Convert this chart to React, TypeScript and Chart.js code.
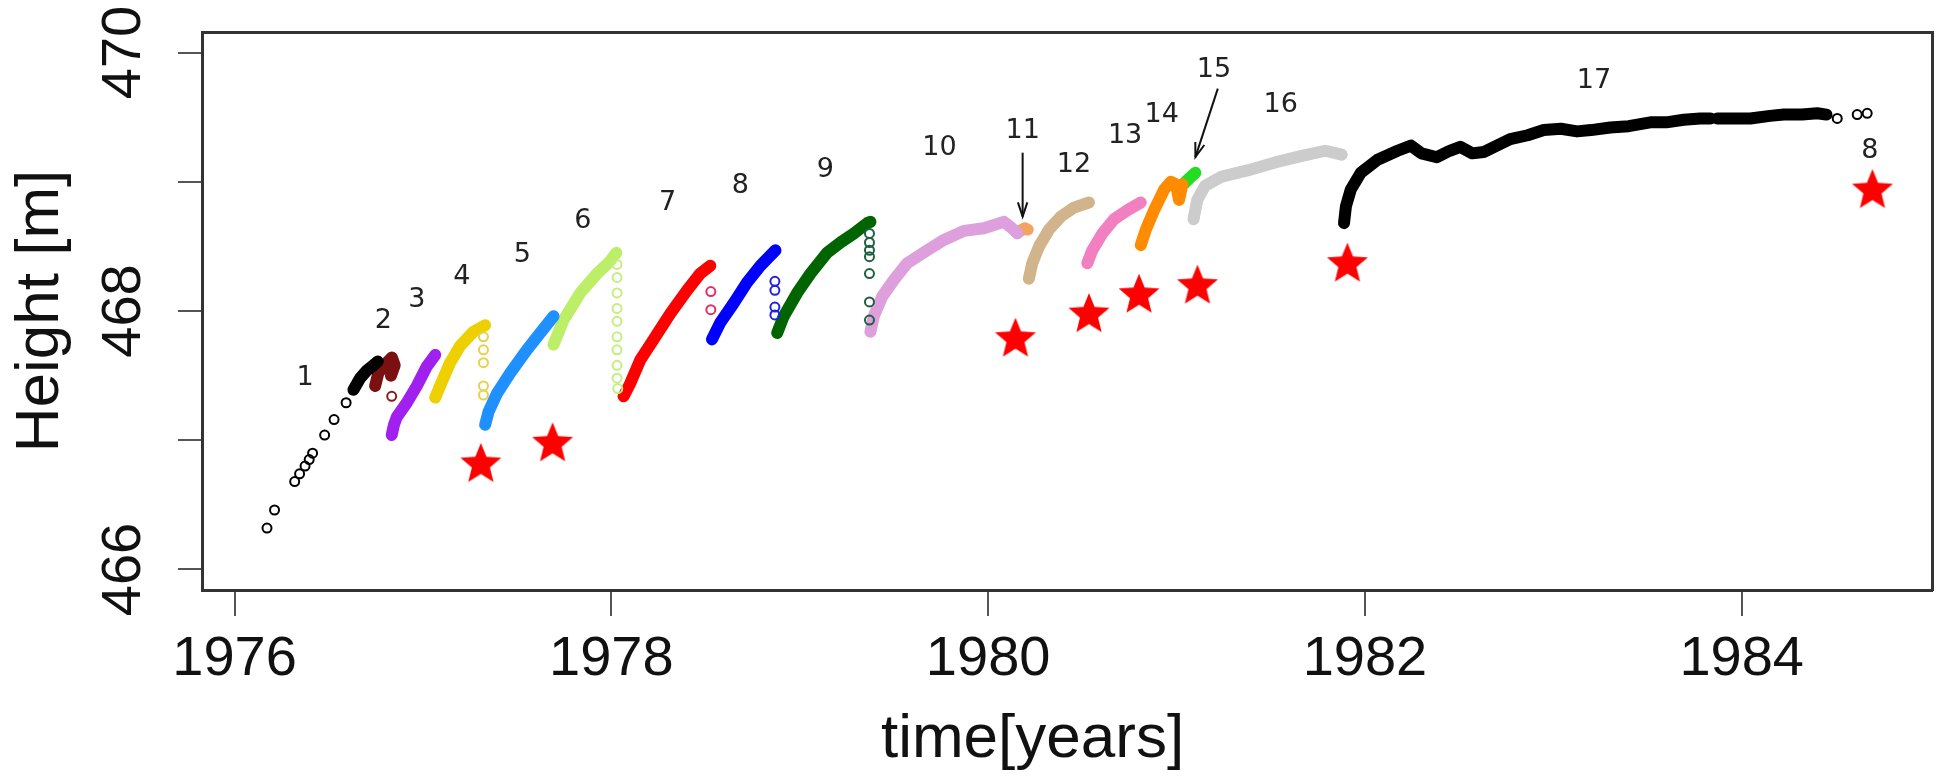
import React, { useEffect, useRef } from "react";
import { Chart, registerables } from "chart.js";

Chart.register(...registerables);

// ---------- axes ----------
const xMin = 1975.827;
const xMax = 1985.01;
const yMin = 465.841;
const yMax = 470.159;
const xTicks = [1976, 1978, 1980, 1982, 1984];
const yTicks = [466, 467, 468, 469, 470];
const yLabeled = [466, 468, 470];

// ---------- series (years, heights) ----------
const s1OpenX = [1976.172, 1976.212, 1976.319, 1976.345, 1976.374, 1976.396, 1976.414, 1976.478, 1976.528, 1976.592];
const s1OpenY = [466.32, 466.46, 466.68, 466.74, 466.80, 466.85, 466.90, 467.04, 467.16, 467.29];
const s1X = [1976.631, 1976.666, 1976.702, 1976.737, 1976.760];
const s1Y = [467.39, 467.48, 467.54, 467.58, 467.61];

const s2X = [1976.746, 1976.763, 1976.790, 1976.808, 1976.835, 1976.850, 1976.830];
const s2Y = [467.42, 467.52, 467.57, 467.60, 467.64, 467.58, 467.50];
const s2OpenX = [1976.834];
const s2OpenY = [467.34];

const s3X = [1976.834, 1976.846, 1976.861, 1976.914, 1976.967, 1977.020, 1977.065];
const s3Y = [467.04, 467.12, 467.18, 467.29, 467.42, 467.57, 467.66];

const s4X = [1977.065, 1977.091, 1977.144, 1977.197, 1977.268, 1977.330];
const s4Y = [467.33, 467.42, 467.60, 467.73, 467.84, 467.89];
const s4OpenX = [1977.321, 1977.321, 1977.321, 1977.321, 1977.321];
const s4OpenY = [467.80, 467.70, 467.60, 467.42, 467.35];

const s5X = [1977.330, 1977.348, 1977.392, 1977.463, 1977.552, 1977.622, 1977.693];
const s5Y = [467.12, 467.22, 467.36, 467.52, 467.70, 467.83, 467.96];

const s6X = [1977.693, 1977.746, 1977.835, 1977.924, 1977.990, 1978.026];
const s6Y = [467.74, 467.93, 468.14, 468.29, 468.38, 468.45];
const s6OpenX = [1978.030, 1978.030, 1978.030, 1978.030, 1978.030, 1978.030, 1978.030, 1978.030, 1978.030, 1978.034];
const s6OpenY = [468.36, 468.26, 468.14, 468.02, 467.92, 467.80, 467.70, 467.58, 467.48, 467.40];

const s7X = [1978.065, 1978.100, 1978.153, 1978.224, 1978.313, 1978.402, 1978.472, 1978.525];
const s7Y = [467.34, 467.44, 467.62, 467.78, 467.98, 468.16, 468.29, 468.35];
const s7OpenX = [1978.528, 1978.528];
const s7OpenY = [468.15, 468.01];

const s8X = [1978.534, 1978.578, 1978.649, 1978.720, 1978.791, 1978.871];
const s8Y = [467.78, 467.91, 468.06, 468.22, 468.35, 468.47];
const s8OpenX = [1978.868, 1978.868, 1978.868, 1978.868];
const s8OpenY = [468.23, 468.16, 468.03, 467.97];

const s9X = [1978.880, 1978.915, 1978.986, 1979.057, 1979.145, 1979.216, 1979.287, 1979.358, 1979.375];
const s9Y = [467.83, 467.96, 468.14, 468.29, 468.45, 468.53, 468.60, 468.68, 468.69];
const s9OpenX = [1979.370, 1979.370, 1979.370, 1979.370, 1979.370, 1979.370, 1979.370];
const s9OpenY = [468.60, 468.53, 468.47, 468.42, 468.29, 468.07, 467.93];

const s10X = [1979.375, 1979.393, 1979.437, 1979.499, 1979.570, 1979.677, 1979.765, 1979.871, 1979.977, 1980.083, 1980.119, 1980.155];
const s10Y = [467.84, 467.96, 468.11, 468.24, 468.37, 468.47, 468.55, 468.62, 468.64, 468.69, 468.65, 468.60];

const s11X = [1980.170, 1980.195, 1980.210];
const s11Y = [468.62, 468.64, 468.63];

const s12X = [1980.216, 1980.234, 1980.270, 1980.323, 1980.385, 1980.455, 1980.535];
const s12Y = [468.25, 468.37, 468.50, 468.63, 468.73, 468.80, 468.84];

const s13X = [1980.526, 1980.553, 1980.606, 1980.668, 1980.739, 1980.810];
const s13Y = [468.37, 468.47, 468.60, 468.71, 468.78, 468.84];

const s14X = [1980.810, 1980.837, 1980.881, 1980.934, 1980.970, 1980.997, 1981.013, 1981.031];
const s14Y = [468.51, 468.63, 468.78, 468.94, 469.00, 468.98, 468.86, 468.98];

const s15X = [1981.035, 1981.070, 1981.100];
const s15Y = [468.98, 469.03, 469.07];

const s16X = [1981.090, 1981.110, 1981.152, 1981.240, 1981.381, 1981.523, 1981.665, 1981.789, 1981.877];
const s16Y = [468.71, 468.86, 468.97, 469.04, 469.09, 469.15, 469.20, 469.24, 469.21];

const s17aX = [1981.889, 1981.899, 1981.925, 1981.978, 1982.067, 1982.173, 1982.244, 1982.300, 1982.382, 1982.450, 1982.506, 1982.570, 1982.630, 1982.700, 1982.771, 1982.864, 1982.949, 1983.040, 1983.126, 1983.200, 1983.302, 1983.400, 1983.515, 1983.600, 1983.692, 1983.780, 1983.835];
const s17aY = [468.68, 468.81, 468.94, 469.07, 469.17, 469.24, 469.28, 469.22, 469.19, 469.24, 469.27, 469.22, 469.23, 469.28, 469.33, 469.36, 469.40, 469.41, 469.39, 469.40, 469.42, 469.43, 469.46, 469.46, 469.48, 469.49, 469.49];
const s17bX = [1983.870, 1984.046, 1984.150, 1984.224, 1984.320, 1984.401, 1984.450];
const s17bY = [469.49, 469.49, 469.51, 469.52, 469.52, 469.53, 469.52];
const s17OpenX = [1984.507, 1984.613, 1984.666];
const s17OpenY = [469.49, 469.52, 469.53];

const starX = [1977.307, 1977.688, 1980.145, 1980.535, 1980.801, 1981.111, 1981.907, 1984.694];
const starY = [466.82, 466.98, 467.79, 467.98, 468.13, 468.20, 468.37, 468.94];

// ---------- annotations ----------
const labelText = ["1", "2", "3", "4", "5", "6", "7", "8", "9", "10", "11", "12", "13", "14", "15", "16", "17", "8"];
const labelX = [1976.374, 1976.790, 1976.967, 1977.206, 1977.527, 1977.849, 1978.298, 1978.685, 1979.136, 1979.742, 1980.183, 1980.455, 1980.727, 1980.921, 1981.199, 1981.553, 1983.216, 1984.680];
const labelY = [467.483, 467.919, 468.087, 468.267, 468.435, 468.699, 468.836, 468.964, 469.094, 469.262, 469.396, 469.132, 469.352, 469.520, 469.863, 469.597, 469.783, 469.235];

const arrowFromX = [1980.183, 1981.219];
const arrowFromY = [469.225, 469.721];
const arrowToX = [1980.183, 1981.100];
const arrowToY = [468.730, 469.191];

const FONT = '"Liberation Sans", Arial, Helvetica, sans-serif';

const zip = (xs: number[], ys: number[]) => xs.map((x, i) => ({ x, y: ys[i] }));

const lineSet = (xs: number[], ys: number[], color: string, width = 12) => ({
  data: zip(xs, ys),
  showLine: true,
  borderColor: color,
  backgroundColor: color,
  borderWidth: width,
  borderCapStyle: "round" as const,
  borderJoinStyle: "round" as const,
  pointRadius: 0,
  pointHoverRadius: 0,
  tension: 0,
  fill: false,
  order: 3,
});

const openSet = (xs: number[], ys: number[], color: string) => ({
  data: zip(xs, ys),
  showLine: false,
  borderColor: color,
  backgroundColor: "rgba(0,0,0,0)",
  borderWidth: 2,
  pointStyle: "circle" as const,
  pointRadius: 4.5,
  pointHoverRadius: 4.5,
  order: 2,
});

function makeStar(): HTMLCanvasElement {
  const c = document.createElement("canvas");
  c.width = 48;
  c.height = 48;
  const g = c.getContext("2d")!;
  const R = 21.5;
  const r = 9.5;
  g.beginPath();
  for (let i = 0; i < 10; i++) {
    const rad = i % 2 === 0 ? R : r;
    const a = -Math.PI / 2 + (i * Math.PI) / 5;
    const px = 24 + rad * Math.cos(a);
    const py = 25 + rad * Math.sin(a);
    if (i === 0) g.moveTo(px, py);
    else g.lineTo(px, py);
  }
  g.closePath();
  g.fillStyle = "#FF0000";
  g.fill();
  return c;
}

const annotationPlugin = {
  id: "annotations",
  afterDatasetsDraw(chart: any) {
    const { ctx } = chart;
    const xs = chart.scales.x;
    const ys = chart.scales.y;
    ctx.save();
    ctx.font = '27px "DejaVu Sans", sans-serif';
    ctx.fillStyle = "#222";
    ctx.textAlign = "center";
    ctx.textBaseline = "middle";
    labelText.forEach((t, i) => {
      ctx.fillText(t, xs.getPixelForValue(labelX[i]), ys.getPixelForValue(labelY[i]));
    });
    ctx.strokeStyle = "#111";
    ctx.lineWidth = 2;
    arrowFromX.forEach((_, i) => {
      const x0 = xs.getPixelForValue(arrowFromX[i]);
      const y0 = ys.getPixelForValue(arrowFromY[i]);
      const x1 = xs.getPixelForValue(arrowToX[i]);
      const y1 = ys.getPixelForValue(arrowToY[i]);
      ctx.beginPath();
      ctx.moveTo(x0, y0);
      ctx.lineTo(x1, y1);
      ctx.stroke();
      const ang = Math.atan2(y1 - y0, x1 - x0);
      const len = 15;
      const spread = 0.32;
      ctx.beginPath();
      ctx.moveTo(x1 - len * Math.cos(ang - spread), y1 - len * Math.sin(ang - spread));
      ctx.lineTo(x1, y1);
      ctx.lineTo(x1 - len * Math.cos(ang + spread), y1 - len * Math.sin(ang + spread));
      ctx.stroke();
    });
    ctx.restore();
  },
};

export default function App() {
  const ref = useRef<HTMLCanvasElement | null>(null);

  useEffect(() => {
    const canvas = ref.current;
    if (!canvas) return;
    const star = makeStar();
    Chart.defaults.font.family = FONT;

    const datasets: any[] = [
      {
        data: zip(starX, starY),
        showLine: false,
        pointStyle: star,
        pointRadius: 21,
        pointHoverRadius: 21,
        order: 0,
      },
      openSet(s1OpenX, s1OpenY, "#000000"),
      openSet(s2OpenX, s2OpenY, "#8B1A1A"),
      openSet(s4OpenX, s4OpenY, "#E6D24A"),
      openSet(s6OpenX, s6OpenY, "#C4EE80"),
      openSet(s7OpenX, s7OpenY, "#E0306A"),
      openSet(s8OpenX, s8OpenY, "#2020E0"),
      openSet(s9OpenX, s9OpenY, "#1E6040"),
      openSet(s17OpenX, s17OpenY, "#000000"),
      lineSet(s1X, s1Y, "#000000"),
      lineSet(s2X, s2Y, "#7A1010"),
      lineSet(s3X, s3Y, "#A020F0"),
      lineSet(s4X, s4Y, "#EED000"),
      lineSet(s5X, s5Y, "#1E90FF"),
      lineSet(s6X, s6Y, "#BCEE68"),
      lineSet(s7X, s7Y, "#FF0000"),
      lineSet(s8X, s8Y, "#0000FF"),
      lineSet(s9X, s9Y, "#006400"),
      lineSet(s10X, s10Y, "#DDA0DD"),
      lineSet(s11X, s11Y, "#F4A460"),
      lineSet(s12X, s12Y, "#D2B48C"),
      lineSet(s13X, s13Y, "#F27FC0"),
      lineSet(s14X, s14Y, "#FF8C00"),
      lineSet(s15X, s15Y, "#22DD22"),
      lineSet(s16X, s16Y, "#CCCCCC"),
      lineSet(s17aX, s17aY, "#000000"),
      lineSet(s17bX, s17bY, "#000000"),
    ];

    const chart = new Chart(canvas, {
      type: "scatter",
      data: { datasets },
      plugins: [annotationPlugin],
      options: {
        animation: false,
        responsive: true,
        maintainAspectRatio: false,
        events: [],
        layout: { autoPadding: false, padding: { top: 32, right: 4, bottom: 0, left: 0 } },
        plugins: { legend: { display: false }, tooltip: { enabled: false } },
        scales: {
          x: {
            type: "linear",
            position: "bottom",
            min: xMin,
            max: xMax,
            afterBuildTicks: (s: any) => {
              s.ticks = xTicks.map((v) => ({ value: v }));
            },
            afterFit: (s: any) => {
              s.height = 189;
              s.paddingLeft = 0;
              s.paddingRight = 0;
            },
            grid: {
              display: true,
              drawOnChartArea: false,
              drawTicks: true,
              tickLength: 26,
              tickWidth: 2,
              tickColor: "#555",
              color: "#555",
              lineWidth: 2,
            },
            border: { display: true, color: "#333", width: 3 },
            ticks: {
              autoSkip: false,
              maxRotation: 0,
              minRotation: 0,
              padding: 10,
              color: "#111",
              font: { family: FONT, size: 56 },
              callback: (v: any) => String(v),
            },
            title: {
              display: true,
              text: "time[years]\u00a0\u00a0\u00a0\u00a0",
              color: "#111",
              font: { family: FONT, size: 62 },
              padding: { top: 0, bottom: 2 },
            },
          },
          xTop: {
            type: "linear",
            position: "top",
            min: xMin,
            max: xMax,
            afterFit: (s: any) => {
              s.height = 0;
              s.paddingLeft = 0;
              s.paddingRight = 0;
            },
            grid: { display: false, drawTicks: false },
            ticks: { display: false },
            border: { display: true, color: "#333", width: 3 },
          },
          y: {
            type: "linear",
            position: "left",
            min: yMin,
            max: yMax,
            afterBuildTicks: (s: any) => {
              s.ticks = yTicks.map((v) => ({ value: v }));
            },
            afterFit: (s: any) => {
              s.width = 202;
              s.paddingTop = 0;
              s.paddingBottom = 0;
            },
            grid: {
              display: true,
              drawOnChartArea: false,
              drawTicks: true,
              tickLength: 24,
              tickWidth: 2,
              tickColor: "#555",
              color: "#555",
              lineWidth: 2,
            },
            border: { display: true, color: "#333", width: 3 },
            ticks: {
              minRotation: 90,
              maxRotation: 90,
              crossAlign: "center",
              padding: 7,
              color: "#111",
              font: { family: FONT, size: 56 },
              callback: (v: any) => (yLabeled.includes(Number(v)) ? String(v) : ""),
            },
            title: {
              display: true,
              text: "Height [m]",
              color: "#111",
              font: { family: FONT, size: 62 },
              padding: { top: 4, bottom: 0 },
            },
          },
          yRight: {
            type: "linear",
            position: "right",
            min: yMin,
            max: yMax,
            afterFit: (s: any) => {
              s.width = 0;
              s.paddingTop = 0;
              s.paddingBottom = 0;
            },
            grid: { display: false, drawTicks: false },
            ticks: { display: false },
            border: { display: true, color: "#333", width: 3 },
          },
        },
      } as any,
    });

    return () => chart.destroy();
  }, []);

  return (
    <div
      style={{
        position: "fixed",
        left: 0,
        top: 0,
        width: "1936px",
        height: "779px",
        background: "#ffffff",
      }}
    >
      <canvas ref={ref} />
    </div>
  );
}
